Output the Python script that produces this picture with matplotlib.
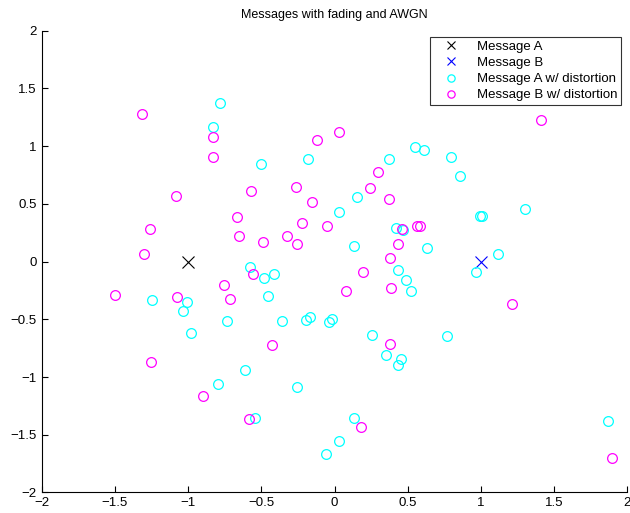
"""Scatter of received symbols for two messages under fading and AWGN."""

import matplotlib
matplotlib.use("Agg")
import matplotlib.pyplot as plt
import numpy as np

plt.rcParams["font.family"] = ["Liberation Sans", "DejaVu Sans"]

# transmitted symbols
msg_a = (-1.0, 0.0)
msg_b = (1.0, 0.0)

# received symbols for message A (cyan)
a_x = [-0.78, -0.83, -0.505, -0.18, -0.58, 0.373, 0.548, 0.612, 0.797, 0.854,
       0.156, 0.028, 1.298, 0.993, 1.006, 0.42, 0.47, 0.133, 0.630, 1.116,
       0.968, 0.434, 0.487, 0.525, -0.02, -0.036, 0.259, 0.765, 0.350, 0.457,
       0.432, 0.135, 0.028, -0.061, 1.866, -1.244, -1.009, -1.036, -0.977, -0.731,
       -0.480, -0.416, -0.453, -0.362, -0.193, -0.170, -0.608, -0.795, -0.257, -0.540]
a_y = [1.376, 1.164, 0.846, 0.886, -0.05, 0.886, 0.990, 0.964, 0.909, 0.742,
       0.557, 0.427, 0.456, 0.398, 0.398, 0.292, 0.272, 0.136, 0.119, 0.067,
       -0.092, -0.069, -0.161, -0.256, -0.493, -0.525, -0.635, -0.643, -0.805, -0.840,
       -0.894, -1.356, -1.550, -1.665, -1.379, -0.334, -0.349, -0.424, -0.615, -0.513,
       -0.144, -0.106, -0.297, -0.516, -0.508, -0.479, -0.935, -1.059, -1.085, -1.353]

# received symbols for message B (magenta)
b_x = [-1.315, -0.827, -0.827, -0.122, -1.082, -0.571, -0.263, -0.154, -0.665, -0.225,
       -0.051, -1.262, -0.653, -0.323, -0.485, -0.257, -1.303, 1.412, 0.028, 0.300,
       0.245, 0.370, 0.462, 0.560, 0.582, 0.434, 0.377, 0.195, 0.076, 0.388,
       1.209, 0.382, 0.179, 1.891, -0.555, -1.502, -1.073, -0.754, -0.713, -0.425,
       -1.255, -0.897, -0.583]
b_y = [1.276, 1.080, 0.904, 1.054, 0.569, 0.615, 0.647, 0.517, 0.387, 0.338,
       0.312, 0.286, 0.222, 0.225, 0.171, 0.156, 0.067, 1.227, 1.126, 0.774,
       0.638, 0.546, 0.283, 0.312, 0.312, 0.150, 0.035, -0.092, -0.256, -0.225,
       -0.364, -0.710, -1.434, -1.702, -0.106, -0.286, -0.303, -0.204, -0.320, -0.721,
       -0.866, -1.160, -1.362]

tick_vals = np.arange(-2, 2.01, 0.5)
tick_labels = ["\u22122", "\u22121.5", "\u22121", "\u22120.5", "0", "0.5", "1", "1.5", "2"]

fig = plt.figure(figsize=(6.3, 5.13), dpi=100)
ax = fig.add_axes([0.066, 0.040, 0.930, 0.900])

ax.plot(msg_a[0], msg_a[1], "x", color="black", markersize=8, mew=0.8,
        label="Message A")
ax.plot(msg_b[0], msg_b[1], "x", color="blue", markersize=8, mew=0.8,
        label="Message B")
ax.plot(a_x, a_y, "o", mfc="none", mec="cyan", markersize=7, mew=0.9,
        label="Message A w/ distortion")
ax.plot(b_x, b_y, "o", mfc="none", mec="magenta", markersize=7, mew=0.9,
        label="Message B w/ distortion")

ax.set_xlim(-2, 2)
ax.set_ylim(-2, 2)
ax.set_xticks(tick_vals)
ax.set_yticks(tick_vals)
ax.set_xticklabels(tick_labels)
ax.set_yticklabels(tick_labels)
ax.tick_params(direction="in", length=4, labelsize=9.5, width=0.8)
ax.spines["top"].set_visible(False)
ax.spines["right"].set_visible(False)
ax.set_title("Messages with fading and AWGN", fontsize=9, pad=9)

leg = ax.legend(loc="upper right", bbox_to_anchor=(1.0, 1.0), fontsize=9.5,
                frameon=True, fancybox=False, edgecolor="black", handlelength=2.6,
                handletextpad=0.7, borderpad=0.25, labelspacing=0.3, markerscale=0.75,
                borderaxespad=0.5)
leg.get_frame().set_linewidth(0.8)

fig.savefig("out.png", dpi=100)
